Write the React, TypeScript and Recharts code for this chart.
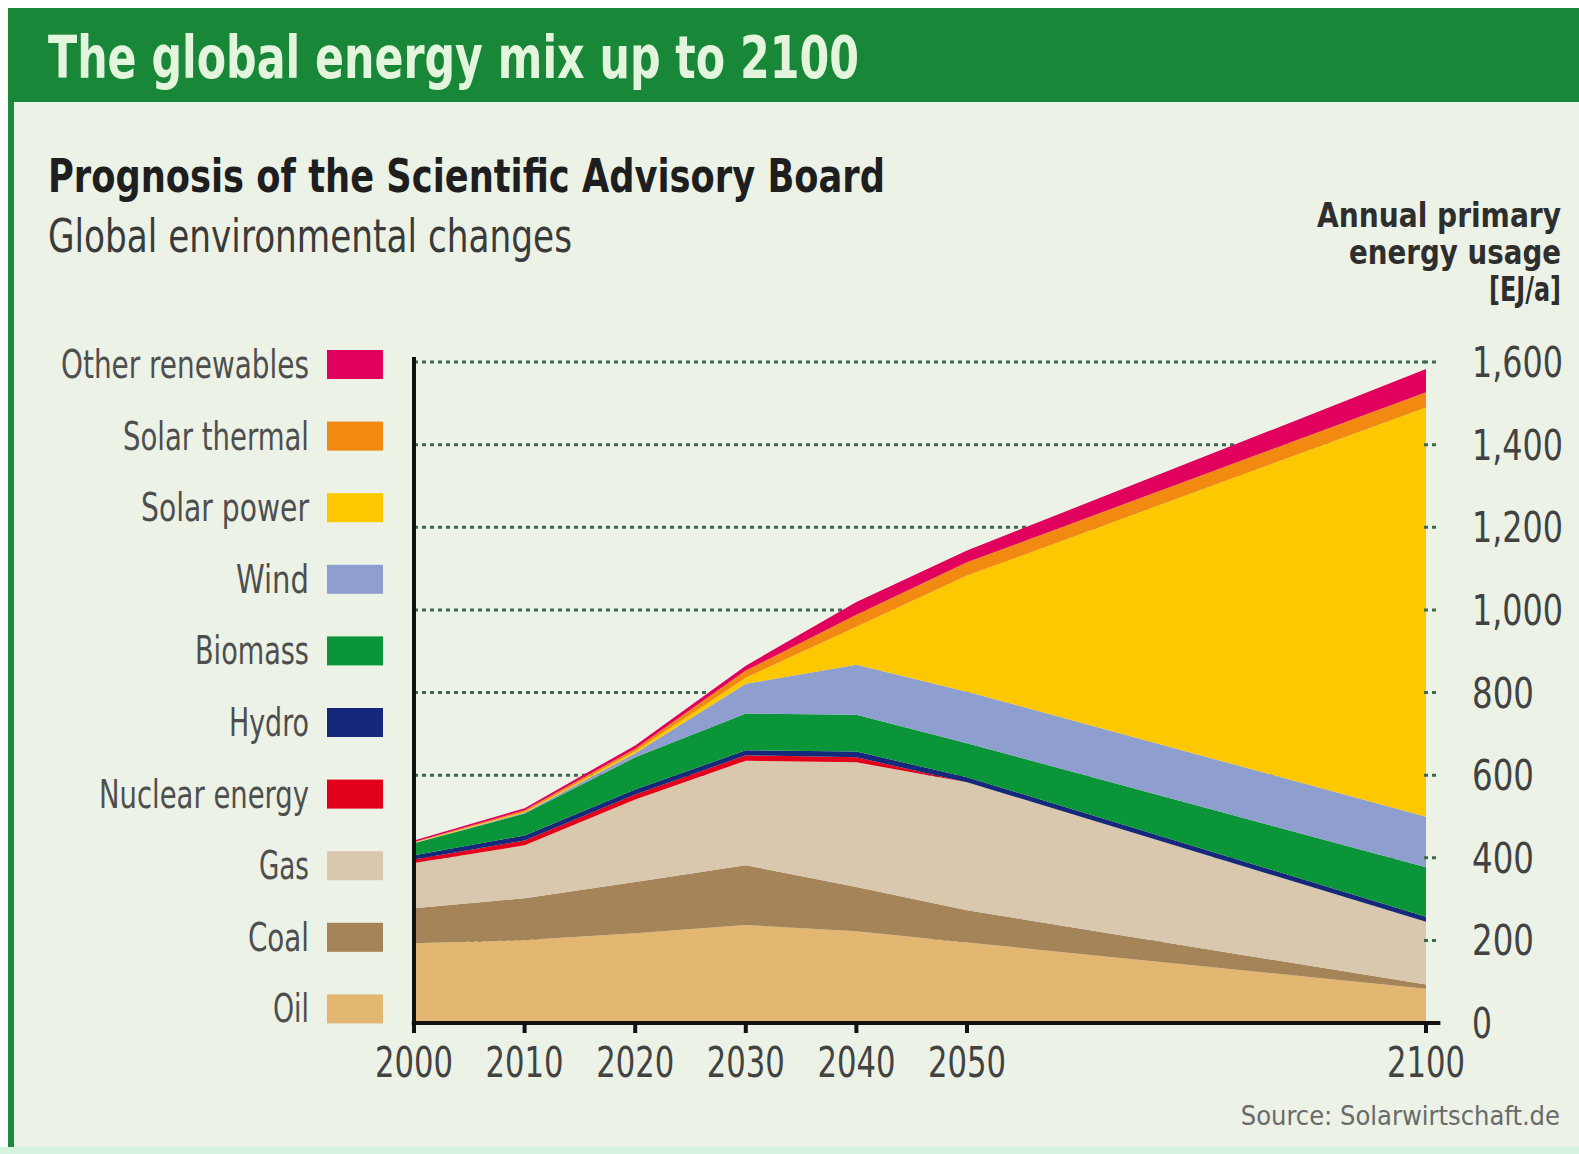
import React from "react";
import { AreaChart, Area, XAxis, YAxis, CartesianGrid, ReferenceLine } from "recharts";

const years = [2000, 2010, 2020, 2030, 2040, 2050, 2100];

// thickness of each layer per year, EJ/a (stacked bottom to top)
const oil = [193, 201, 217, 237, 222, 195, 83];
const coal = [85, 101, 124, 145, 107, 78, 10];
const gas = [109, 128, 200, 253, 302, 310, 152];
const nuclear = [9, 12, 12, 13, 12, 0, 0];
const hydro = [10, 12, 12, 12, 14, 12, 12];
const biomass = [29, 53, 78, 89, 89, 82, 120];
const wind = [1, 2, 10, 72, 121, 125, 122];
const solarPower = [1, 2, 5, 15, 92, 281, 991];
const solarThermal = [1, 4, 6, 17, 29, 32, 37];
const otherRenewables = [4, 5, 8, 12, 31, 29, 56];

const yTicks = [0, 200, 400, 600, 800, 1000, 1200, 1400, 1600];

const series = [
  { key: "oil", label: "Oil", color: "#E3B772", values: oil },
  { key: "coal", label: "Coal", color: "#A5845A", values: coal },
  { key: "gas", label: "Gas", color: "#D9C8AE", values: gas },
  { key: "nuclear", label: "Nuclear energy", color: "#E2001A", values: nuclear },
  { key: "hydro", label: "Hydro", color: "#16287A", values: hydro },
  { key: "biomass", label: "Biomass", color: "#0A9538", values: biomass },
  { key: "wind", label: "Wind", color: "#8E9ECF", values: wind },
  { key: "solarPower", label: "Solar power", color: "#FEC800", values: solarPower },
  { key: "solarThermal", label: "Solar thermal", color: "#F28A12", values: solarThermal },
  { key: "other", label: "Other renewables", color: "#E1005E", values: otherRenewables },
];

// the original squeezes 2050-2100 compared with 2000-2050
const LATE_RATE = 0.83;
const axisPos = (year: number) => (year <= 2050 ? year : 2050 + (year - 2050) * LATE_RATE);
const xTicks = years.map(axisPos);

const data = years.map((year, i) => {
  const row: any = { year, pos: axisPos(year) };
  series.forEach((s) => (row[s.key] = s.values[i]));
  return row;
});

const FONT = "'Liberation Sans Narrow', 'DejaVu Sans Condensed', 'Open Sans', sans-serif";
const BG = "#ECF2E6";
const GRID = "#3E6A4C";
const TEXT = "#424242";

// legend label widths, matched to the original lettering
const legendWidths: Record<string, number> = {
  other: 248, solarThermal: 186, solarPower: 168, wind: 73, biomass: 114,
  hydro: 80, nuclear: 210, gas: 50, coal: 61, oil: 36,
};

function Txt({ x, y, size, w, bold, color, anchor, children }: any) {
  return (
    <text
      x={x}
      y={y}
      fontSize={size}
      fontFamily={FONT}
      fontWeight={bold ? 700 : 400}
      fill={color}
      textAnchor={anchor || "start"}
      textLength={w}
      lengthAdjust={w ? "spacingAndGlyphs" : undefined}
    >
      {children}
    </text>
  );
}

const XTick = ({ x, y, payload }: any) => {
  const i = xTicks.indexOf(payload.value);
  return (
    <Txt x={x} y={y + 44} size={42} w={78} color={TEXT} anchor="middle">
      {String(years[i])}
    </Txt>
  );
};

const YTick = ({ x, y, payload }: any) => {
  const v = payload.value as number;
  const w = v >= 1000 ? 91 : v > 0 ? 62 : 20;
  return (
    <g>
      {v > 0 && (
        <line x1={x - 2} x2={x + 12} y1={y} y2={y} stroke={GRID} strokeWidth={3} strokeDasharray="4 4" />
      )}
      <Txt x={x + 46} y={y + 15} size={42} w={w} color={TEXT}>
        {v.toLocaleString("en-US")}
      </Txt>
    </g>
  );
};

export default function App() {
  const legend = [...series].reverse();
  return (
    <div style={{ position: "absolute", left: 0, top: 0, width: 1579, height: 1154, background: "#fff" }}>
      <svg width={1579} height={1154} style={{ position: "absolute", left: 0, top: 0 }}>
        <rect x={8} y={8} width={1571} height={1140} fill={BG} />
        <rect x={8} y={8} width={1571} height={94} fill="#198738" />
        <rect x={8} y={102} width={6} height={1046} fill="#1E8C40" />
        <rect x={0} y={1147} width={1579} height={7} fill="#D6F3E0" />
        <Txt x={48} y={78} size={58} w={811} bold color="#E4F5DE">
          The global energy mix up to 2100
        </Txt>
        <Txt x={48} y={192} size={47} w={837} bold color="#1E1E1E">
          Prognosis of the Scientific Advisory Board
        </Txt>
        <Txt x={48} y={252} size={47} w={524} color="#3A3A3A">
          Global environmental changes
        </Txt>
        <Txt x={1561} y={227} size={33} w={244} bold color="#2E2E2E" anchor="end">
          Annual primary
        </Txt>
        <Txt x={1561} y={264} size={33} w={212} bold color="#2E2E2E" anchor="end">
          energy usage
        </Txt>
        <Txt x={1561} y={301} size={33} w={72} bold color="#2E2E2E" anchor="end">
          [EJ/a]
        </Txt>
        {legend.map((s, i) => {
          const cy = 364 + i * 71.6;
          return (
            <g key={s.key}>
              <Txt x={309} y={cy + 14} size={39} w={legendWidths[s.key]} color="#4E4E4E" anchor="end">
                {s.label}
              </Txt>
              <rect x={327} y={cy - 14} width={56} height={29} fill={s.color} />
            </g>
          );
        })}
        <Txt x={1560} y={1125} size={27} color="#6A6A6A" anchor="end">
          Source: Solarwirtschaft.de
        </Txt>
      </svg>
      <div style={{ position: "absolute", left: 0, top: 0 }}>
        <AreaChart
          width={1579}
          height={1154}
          data={data}
          margin={{ top: 362, left: 414, right: 53, bottom: 71 }}
        >
          <CartesianGrid
            horizontal
            vertical={false}
            stroke={GRID}
            strokeWidth={3}
            strokeDasharray="4 4"
          />
          <XAxis
            dataKey="pos"
            type="number"
            domain={[axisPos(2000), axisPos(2100)]}
            ticks={xTicks}
            interval={0}
            height={60}
            axisLine={false}
            tickLine={{ stroke: "#111", strokeWidth: 4 }}
            tickSize={10}
            tickMargin={0}
            tick={<XTick />}
          />
          <YAxis
            orientation="right"
            type="number"
            domain={[0, 1600]}
            ticks={yTicks}
            width={100}
            axisLine={false}
            tickLine={false}
            tickSize={0}
            tickMargin={0}
            tick={<YTick />}
          />
          {series.map((s) => (
            <Area
              key={s.key}
              type="linear"
              dataKey={s.key}
              stackId="mix"
              fill={s.color}
              fillOpacity={1}
              stroke="none"
              isAnimationActive={false}
              dot={false}
              activeDot={false}
            />
          ))}
          <ReferenceLine
            segment={[
              { x: axisPos(2000), y: 0 },
              { x: axisPos(2000), y: 1612 },
            ]}
            stroke="#111"
            strokeWidth={4}
            ifOverflow="visible"
          />
          <ReferenceLine
            segment={[
              { x: axisPos(2000) - 0.2, y: 0 },
              { x: axisPos(2100) + 1.3, y: 0 },
            ]}
            stroke="#111"
            strokeWidth={4}
            ifOverflow="visible"
          />
        </AreaChart>
      </div>
    </div>
  );
}
